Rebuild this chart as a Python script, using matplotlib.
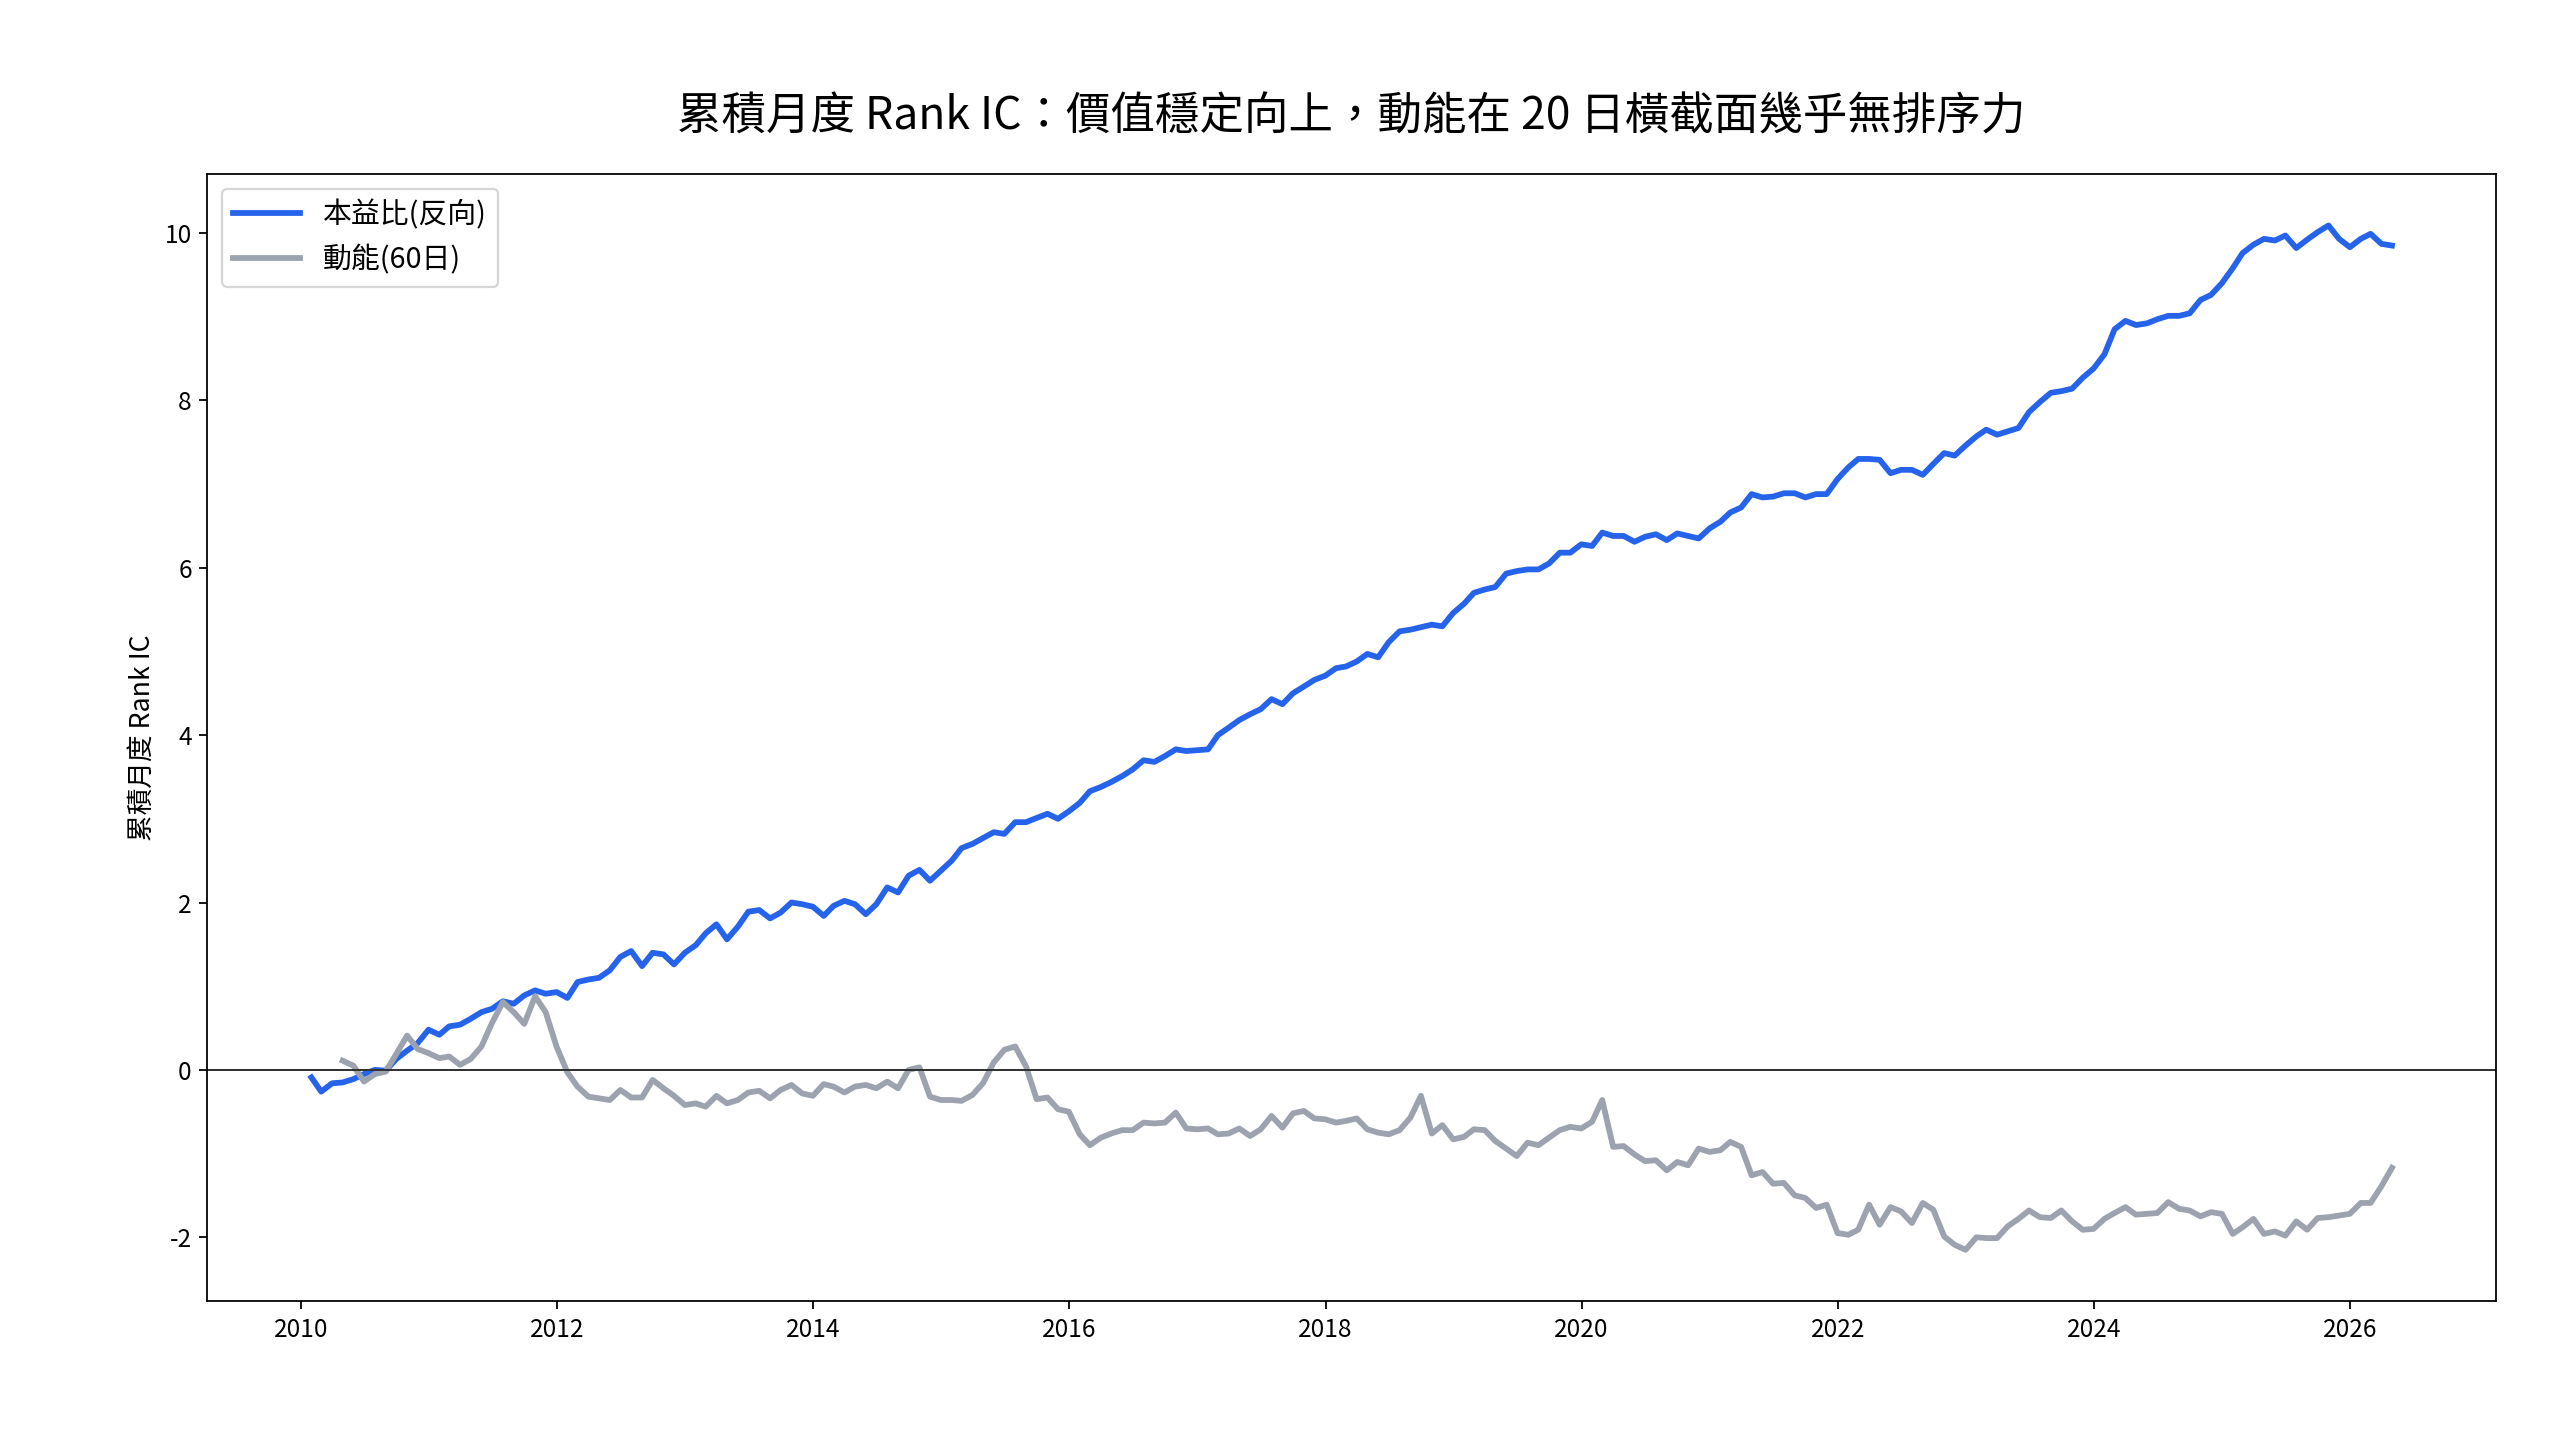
import matplotlib
matplotlib.use("Agg")
import matplotlib.pyplot as plt
import pandas as pd

plt.rcParams['font.family'] = ['Noto Sans CJK TC', 'DejaVu Sans']
plt.rcParams['axes.unicode_minus'] = False

title = "累積月度 Rank IC：價值穩定向上，動能在 20 日橫截面幾乎無排序力"
ylabel = "累積月度 Rank IC"
label_pe = "本益比(反向)"
label_mom = "動能(60日)"

pe_start = "2010-01-31"
mom_start = "2010-04-30"

pe_cum = [
    # 2010-01 .. 2014-02
    -0.09, -0.26, -0.16, -0.15, -0.11, -0.05, 0.00, -0.01, 0.13, 0.23, 0.32, 0.48,
    0.42, 0.52, 0.54, 0.61, 0.69, 0.73, 0.82, 0.79, 0.89, 0.95, 0.91, 0.93,
    0.86, 1.05, 1.08, 1.10, 1.19, 1.35, 1.42, 1.24, 1.40, 1.38, 1.26, 1.40,
    1.49, 1.63, 1.74, 1.56, 1.71, 1.89, 1.91, 1.81, 1.88, 2.00, 1.98, 1.95,
    1.84, 1.96,
    # 2014-03 .. 2018-01
    2.02, 1.98, 1.86, 1.98, 2.18, 2.12, 2.32, 2.39, 2.26, 2.38,
    2.50, 2.65, 2.70, 2.77, 2.84, 2.82, 2.96, 2.96, 3.01, 3.06, 3.00, 3.09,
    3.19, 3.33, 3.38, 3.44, 3.51, 3.59, 3.70, 3.68, 3.75, 3.83, 3.81, 3.82,
    3.83, 4.00, 4.09, 4.18, 4.25, 4.31, 4.43, 4.37, 4.50, 4.58, 4.66, 4.71,
    4.80,
    # 2018-02 .. 2022-03
    4.82, 4.88, 4.97, 4.93, 5.11, 5.24, 5.26, 5.29, 5.32, 5.30, 5.46,
    5.57, 5.70, 5.74, 5.77, 5.93, 5.96, 5.98, 5.98, 6.05, 6.18, 6.18, 6.28,
    6.26, 6.42, 6.38, 6.38, 6.31, 6.37, 6.40, 6.33, 6.41, 6.38, 6.35, 6.47,
    6.55, 6.66, 6.72, 6.88, 6.84, 6.85, 6.89, 6.89, 6.84, 6.88, 6.88, 7.06,
    7.20, 7.30, 7.30,
    # 2022-04 .. 2026-04
    7.29, 7.13, 7.17, 7.17, 7.11, 7.24, 7.37, 7.34, 7.46,
    7.57, 7.65, 7.59, 7.63, 7.67, 7.86, 7.98, 8.09, 8.11, 8.14, 8.27, 8.38,
    8.55, 8.85, 8.95, 8.90, 8.92, 8.97, 9.01, 9.01, 9.04, 9.20, 9.26, 9.40,
    9.58, 9.76, 9.86, 9.93, 9.91, 9.97, 9.82, 9.92, 10.01, 10.09, 9.93, 9.83,
    9.93, 9.99, 9.87, 9.85,
]

mom_cum = [
    # 2010-04 .. 2014-02
    0.11, 0.05, -0.14, -0.05, -0.02, 0.19, 0.41, 0.25, 0.20,
    0.14, 0.16, 0.06, 0.13, 0.28, 0.56, 0.81, 0.69, 0.55, 0.88, 0.69, 0.28,
    -0.03, -0.20, -0.32, -0.34, -0.36, -0.24, -0.33, -0.33, -0.12, -0.22, -0.31, -0.42,
    -0.40, -0.44, -0.31, -0.40, -0.36, -0.27, -0.25, -0.34, -0.24, -0.18, -0.28, -0.31,
    -0.17, -0.20,
    # 2014-03 .. 2018-01
    -0.27, -0.20, -0.18, -0.22, -0.14, -0.22, 0.00, 0.03, -0.32, -0.36,
    -0.36, -0.37, -0.30, -0.16, 0.09, 0.24, 0.28, 0.04, -0.35, -0.33, -0.47, -0.50,
    -0.77, -0.90, -0.81, -0.76, -0.72, -0.72, -0.63, -0.64, -0.63, -0.51, -0.70, -0.71,
    -0.70, -0.77, -0.76, -0.70, -0.79, -0.71, -0.55, -0.69, -0.52, -0.49, -0.58, -0.59,
    -0.63,
    # 2018-02 .. 2022-03
    -0.61, -0.58, -0.71, -0.75, -0.77, -0.72, -0.57, -0.31, -0.76, -0.66, -0.83,
    -0.80, -0.71, -0.72, -0.85, -0.94, -1.03, -0.87, -0.90, -0.81, -0.72, -0.68, -0.70,
    -0.62, -0.36, -0.92, -0.91, -1.01, -1.09, -1.08, -1.20, -1.10, -1.14, -0.94, -0.98,
    -0.96, -0.86, -0.92, -1.26, -1.22, -1.36, -1.35, -1.50, -1.53, -1.65, -1.61, -1.95,
    -1.97, -1.91, -1.61,
    # 2022-04 .. 2026-04
    -1.85, -1.64, -1.69, -1.83, -1.59, -1.67, -1.99, -2.09, -2.15,
    -2.00, -2.01, -2.01, -1.87, -1.78, -1.68, -1.76, -1.77, -1.68, -1.81, -1.91, -1.90,
    -1.78, -1.71, -1.64, -1.73, -1.72, -1.71, -1.58, -1.66, -1.68, -1.75, -1.70, -1.72,
    -1.96, -1.88, -1.78, -1.96, -1.93, -1.98, -1.81, -1.91, -1.77, -1.76, -1.74, -1.72,
    -1.59, -1.59, -1.39, -1.17,
]

pe_dates = pd.date_range(pe_start, periods=len(pe_cum), freq="ME")
mom_dates = pd.date_range(mom_start, periods=len(mom_cum), freq="ME")

fig = plt.figure(figsize=(16, 9), dpi=160)
ax = fig.add_axes([0.081, 0.0965, 0.894, 0.7825])

ax.plot(pe_dates, pe_cum, color="#2563eb", lw=2.6, label=label_pe)
ax.plot(mom_dates, mom_cum, color="#9ca3af", lw=2.6, label=label_mom)
ax.axhline(0, color="#333333", lw=0.9)

ax.set_title(title, fontsize=20, pad=20)
ax.set_ylabel(ylabel, fontsize=12)
ax.tick_params(labelsize=11)
ax.legend(loc="upper left", fontsize=13, handlelength=2.3)

fig.savefig("out.png", dpi=160)
